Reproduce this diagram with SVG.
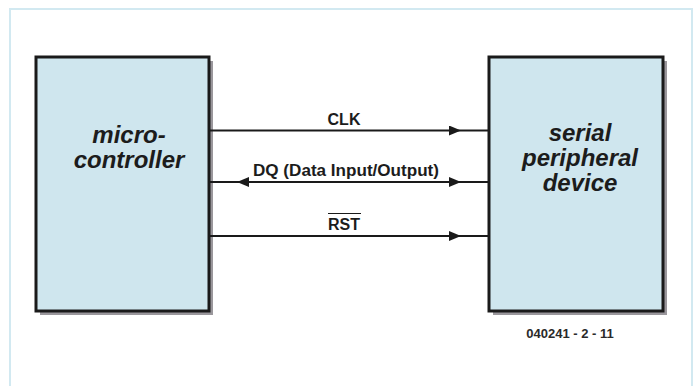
<svg xmlns="http://www.w3.org/2000/svg" width="697" height="386" viewBox="0 0 697 386">
<defs>
<style>
.frame{fill:#ffffff;stroke:#d2e9f1;stroke-width:2}
.shadow{fill:#9a979c}
.box{fill:#cfe6ee;stroke:#1a1a1a;stroke-width:3}
.title{font-family:"Liberation Sans",Arial,sans-serif;font-style:italic;font-weight:bold;font-size:24px;fill:#1c1c1c;text-anchor:middle}
.sig{font-family:"Liberation Sans",Arial,sans-serif;font-weight:bold;font-size:16px;fill:#1c1c1c;text-anchor:middle}
.wire{stroke:#1a1a1a;stroke-width:2;fill:none}
.note{font-family:"Liberation Sans",Arial,sans-serif;font-weight:bold;font-size:13px;fill:#2a2a2a;text-anchor:middle}
</style>
<marker id="arr" viewBox="0 0 12 10" refX="12" refY="5" markerWidth="12" markerHeight="10" markerUnits="userSpaceOnUse" orient="auto-start-reverse">
<path d="M0,0 L12,5 L0,10 Z" fill="#1a1a1a"/>
</marker>
</defs>
<rect class="frame" x="10" y="9" width="682" height="385"/>
<g id="microcontroller">
<rect class="shadow" x="40" y="61" width="173" height="254"/>
<rect class="box" x="36" y="57" width="173" height="254"/>
<text class="title" x="129" y="143">micro-</text>
<text class="title" x="129" y="168">controller</text>
</g>
<g id="peripheral">
<rect class="shadow" x="493" y="61" width="174" height="254"/>
<rect class="box" x="489" y="57" width="174" height="254"/>
<text class="title" x="580" y="141">serial</text>
<text class="title" x="580" y="166">peripheral</text>
<text class="title" x="580" y="191">device</text>
</g>
<g id="connectors">
<line class="wire" x1="210" y1="130.5" x2="461" y2="130.5" marker-end="url(#arr)"/>
<line class="wire" x1="461" y1="130.5" x2="488" y2="130.5"/>
<line class="wire" x1="210" y1="182" x2="237" y2="182"/>
<line class="wire" x1="237" y1="182" x2="461" y2="182" marker-start="url(#arr)" marker-end="url(#arr)"/>
<line class="wire" x1="461" y1="182" x2="488" y2="182"/>
<line class="wire" x1="210" y1="236" x2="461" y2="236" marker-end="url(#arr)"/>
<line class="wire" x1="461" y1="236" x2="488" y2="236"/>
<text class="sig" x="344" y="125">CLK</text>
<text class="sig" x="346" y="176" textLength="186" lengthAdjust="spacingAndGlyphs">DQ (Data Input/Output)</text>
<text class="sig" x="344" y="230">RST</text>
<line x1="328" y1="213.5" x2="361" y2="213.5" stroke="#1a1a1a" stroke-width="1.2"/>
</g>
<text class="note" x="570" y="338">040241 - 2 - 11</text>
</svg>
